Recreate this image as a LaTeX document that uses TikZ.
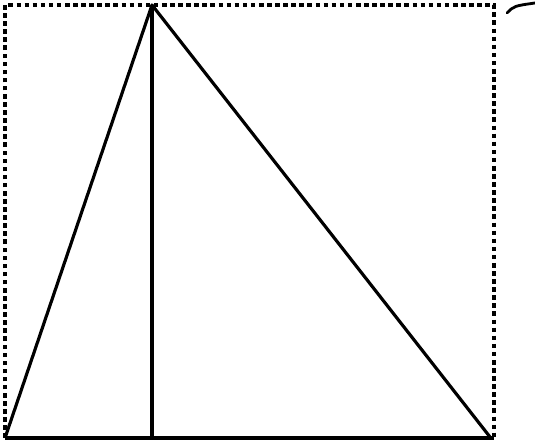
\documentclass[tikz,border=0pt]{standalone}
\usepackage{tikz}

\begin{document}
\begin{tikzpicture}[x=0.02cm,y=0.02cm]
			\useasboundingbox (0,0) rectangle (535,445);
			\coordinate (A) at (152,440);
			\coordinate (B) at (5,7);
			\coordinate (C) at (490,8);
			\coordinate (H) at (152,7);
			\coordinate (TL) at (5,440);
			\coordinate (BR) at (494,7);
			\coordinate (m1) at (507,432);
			\coordinate (m2) at (535,442);
			\draw[line width=2.2pt,dash pattern=on 2.6pt off 2pt] (B) -- (TL) -- (BR |- TL) -- (BR);
			\draw[line width=1.8pt,line join=round] (B) -- (A) -- (C);
			\draw[line width=1.8pt] (B) -- (BR);
			\draw[line width=1.9pt] (A) -- (H);
			\draw[line width=1.6pt,line cap=round] (m1) .. controls (514,439) .. (m2);
		\end{tikzpicture}
\end{document}
